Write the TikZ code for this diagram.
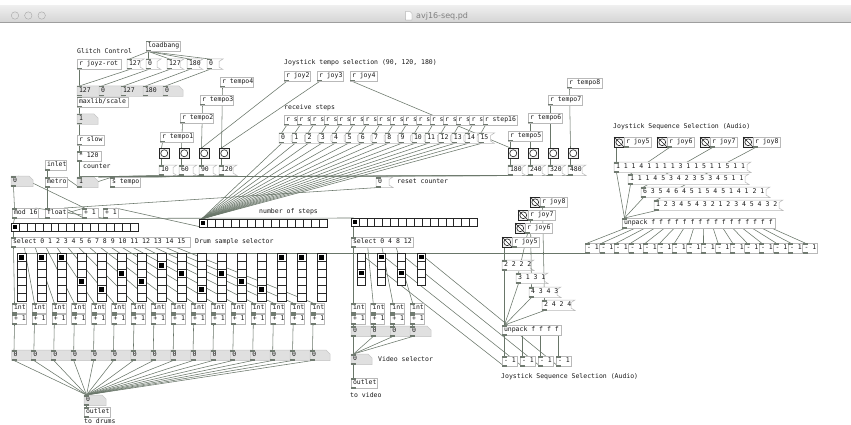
\documentclass[tikz,border=0pt]{standalone}
\usepackage{fontspec}
\newfontfamily\pdmono{DejaVu Sans Mono}
\newfontfamily\ttlfont{DejaVu Sans}
\usetikzlibrary{calc,backgrounds}
\definecolor{wirec}{RGB}{105,118,105}
\definecolor{boxc}{RGB}{185,185,185}
\definecolor{numc}{RGB}{224,224,224}
\definecolor{numb}{RGB}{198,198,198}
\definecolor{ioc}{RGB}{112,122,112}
\definecolor{txtc}{RGB}{25,25,25}
\definecolor{tbtop}{RGB}{238,238,238}
\definecolor{tbbot}{RGB}{212,212,212}
\newcommand\pdfnt{\fontsize{6.5}{7}\selectfont\pdmono}
\tikzset{
 obox/.style={draw=boxc, line width=0.5pt, fill=white, minimum height=10.5, inner sep=0, outer sep=0, anchor=north west},
 mbox/.style={fill=white, draw=none, minimum height=10.5, inner sep=0, outer sep=0, anchor=north west},
 nbox/.style={fill=numc, draw=none, minimum height=10.5, inner sep=0, outer sep=0, anchor=north west},
 txt/.style={anchor=west, inner sep=0, font=\pdfnt, text=txtc, text height=4.6pt, text depth=1.2pt},
 cmt/.style={anchor=west, inner sep=0, font=\pdfnt, text=txtc, text height=4.6pt, text depth=1.2pt},
 wire/.style={draw=wirec, line width=0.55pt},
 io/.style={fill=ioc},
 bangbox/.style={draw=black!85, line width=0.9pt, fill=black!6, minimum size=10.5, inner sep=0, outer sep=0, anchor=north west},
 radbox/.style={draw=black!85, line width=0.5pt, fill=white, inner sep=0, outer sep=0, anchor=north west},
}
% object with inlet and outlet
\newcommand\pdO[5]{\node[obox,minimum width=#4] (#1) at (#2,#3) {};
 \node[txt] at ([xshift=1.8pt]#1.west) {#5};
 \fill[io] (#1.north west) rectangle ++(5,1.5);
 \fill[io] (#1.south west) rectangle ++(5,-1.5);}
% receive-like object (outlet only)
\newcommand\pdR[5]{\node[obox,minimum width=#4] (#1) at (#2,#3) {};
 \node[txt] at ([xshift=1.8pt]#1.west) {#5};
 \fill[io] (#1.south west) rectangle ++(5,-1.5);}
% message box
\newcommand\pdM[5]{\node[mbox,minimum width=#4] (#1) at (#2,#3) {};
 \draw[boxc,line width=0.5pt] (#1.north west) -- ([xshift=4pt]#1.north east) -- ([yshift=-2.5pt]#1.north east) -- ([yshift=2.5pt]#1.south east) -- ([xshift=4pt]#1.south east) -- (#1.south west) -- cycle;
 \node[txt] at ([xshift=1.8pt]#1.west) {#5};
 \fill[io] (#1.north west) rectangle ++(5,1.5);
 \fill[io] (#1.south west) rectangle ++(5,-1.5);}
% number box
\newcommand\pdN[5]{\node[nbox,minimum width=#4] (#1) at (#2,#3) {};
 \fill[white] ([xshift=-4pt]#1.north east) -- ([xshift=0.3pt,yshift=0.3pt]#1.north east) -- ([yshift=-4pt]#1.north east) -- cycle;
 \draw[numb,line width=0.5pt] (#1.north west) -- ([xshift=-4pt]#1.north east) -- ([yshift=-4pt]#1.north east) -- (#1.south east) -- (#1.south west) -- cycle;
 \node[txt] at ([xshift=1.8pt]#1.west) {#5};
 \fill[io] (#1.north west) rectangle ++(5,1.5);
 \fill[io] (#1.south west) rectangle ++(5,-1.5);}
% bang
\newcommand\pdB[3]{\node[bangbox] (#1) at (#2,#3) {};
 \draw[black!85,line width=0.6pt,fill=white] (#1.center) circle[radius=3.5pt];}
% toggle-like
\newcommand\pdT[3]{\node[bangbox] (#1) at (#2,#3) {};
 \draw[black!85,line width=0.6pt,fill=white] (#1.center) circle[radius=3.4pt];
 \draw[black!85,line width=0.6pt] (#1.north west) -- (#1.south east);}
% hradio 16 cells
\newcommand\pdH[4]{\node[radbox,minimum width=16*#4,minimum height=#4] (#1) at (#2,#3) {};
 \foreach \i in {1,...,15} \draw[black!85,line width=0.5pt] ($(#1.north west)+(\i*#4,0)$) -- ++(0,#4);
 \fill[black] ($(#1.north west)+(1.6,1.6)$) rectangle ++(#4-3.2,#4-3.2);}
% vradio
\newcommand\pdV[5]{\node[radbox,minimum width=8.6,minimum height=8*#4] (#1) at (#2,#3) {};
 \foreach \i in {1,...,#4} \draw[black!85,line width=0.5pt] ($(#1.north west)+(0,\i*8)$) -- ++(8.6,0);
 \fill[black] ($(#1.north west)+(1.8,#5*8+1.6)$) rectangle ++(5,4.8);}
\newcommand\pdC[4]{\node[cmt] (#1) at (#2,#3) {#4};}
\newcommand\pdW[2]{\draw[wire] ([xshift=2.5pt]#1.south west) -- ([xshift=2.5pt]#2.north west);}
\newcommand\pdWR[2]{\draw[wire] ([xshift=2.5pt]#1.south west) -- ([xshift=-2.5pt]#2.north east);}

\begin{document}
\begin{tikzpicture}[x=1pt,y=-1pt]
\useasboundingbox (0,0) rectangle (851,425);
\begin{pgfonlayer}{background}
\fill[white] (0,0) rectangle (851,425);
\end{pgfonlayer}
% ---------- title bar
\shade[top color=tbtop,bottom color=tbbot] (0,6) rectangle (851,22.5);
\draw[black!38,line width=0.5pt] (0,22.5) -- (851,22.5);
\foreach \cx in {15,28.3,41.7} \draw[fill=black!12,draw=black!35,line width=0.4pt] (\cx,15.5) circle[radius=3.7pt];
\draw[fill=white,draw=black!45,line width=0.3pt] (405.5,11.5) -- (410,11.5) -- (412,13.5) -- (412,20) -- (405.5,20) -- cycle;
\node[anchor=west,inner sep=0,font=\ttlfont\fontsize{8}{9}\selectfont,text=black!50] (ttl) at (416,16) {avj16-seq.pd};

% ---------- glitch control
\pdC{cglitch}{77}{52}{Glitch Control}
\pdO{lb}{146}{41}{34}{loadbang}
\pdR{jz}{77}{59}{44}{r joyz-rot}
\pdM{ma}{127}{59}{13}{127}
\pdM{mb}{146}{59}{11}{0}
\pdM{mc}{167}{59}{13}{127}
\pdM{md}{187}{59}{12}{180}
\pdM{me}{207}{59}{12}{0}
\pdN{na}{77}{86}{26}{127}
\pdN{nb}{99}{86}{26}{0}
\pdN{nc}{121}{86}{26}{127}
\pdN{nd}{143}{86}{24}{180}
\pdN{ne}{163}{86}{20}{0}
\pdO{sc}{77}{97}{51}{maxlib/scale}
\pdN{nf}{77}{114}{21}{1}
\pdR{slow}{77}{135}{27}{r slow}
\pdO{mul}{77}{151}{24}{* 120}
\pdC{ccount}{83}{167}{counter}
\pdR{inl}{45}{160}{21}{inlet}
\pdO{met}{45}{177}{22}{metro}
\pdN{cnt}{77}{177}{21}{1}
\pdO{stp}{110}{177}{30}{s tempo}
\pdN{zo}{11}{176}{22}{0}
\pdO{mod}{12}{208}{26}{mod 16}
\pdO{flt}{45}{208}{22}{float}
\pdO{pa}{82}{208}{16}{+ 1}
\pdO{pb}{103}{208}{15}{+ 1}
\pdH{hra}{11}{223}{7.95}
\pdH{hrb}{199}{219}{8}
\pdC{csteps}{259}{212}{number of steps}
\pdH{hrc}{351}{218}{7.9}
\pdO{sel}{11}{237}{179}{select 0 1 2 3 4 5 6 7 8 9 10 11 12 13 14 15}
\pdC{cdrum}{195}{242}{Drum sample selector}

% ---------- tempo
\pdR{ta}{160}{132}{33}{r tempo1}
\pdR{tb}{180}{113}{33}{r tempo2}
\pdR{tc}{200}{95}{33}{r tempo3}
\pdR{td}{220}{77}{33}{r tempo4}
\pdB{ba}{159}{148}\pdB{bb}{179}{148}\pdB{bc}{199}{148}\pdB{bd}{219}{148}
\pdM{va}{159}{165}{14}{10}
\pdM{vb}{179}{165}{14}{60}
\pdM{vc}{199}{165}{14}{90}
\pdM{vd}{219}{165}{14}{120}
\pdC{cjoy}{284}{63}{Joystick tempo selection (90, 120, 180)}
\pdR{jb}{284}{71}{26}{r joy2}
\pdR{jc}{317}{71}{26}{r joy3}
\pdR{jd}{350}{71}{27}{r joy4}
\pdC{crecv}{284}{108}{receive steps}
\foreach \k in {0,...,14} {
  \pdR{rs\k}{284+13.25*\k}{115}{13.25}{r s}
}
\pdR{rs15}{482.75}{115}{34}{r step16}
\foreach \k in {0,...,15} {
  \pdM{ns\k}{279+13.3*\k}{133}{12}{\k}
}
\pdR{te}{508}{131}{34}{r tempo5}
\pdR{tf}{528}{113}{34}{r tempo6}
\pdR{tg}{548}{95}{34}{r tempo7}
\pdR{th}{567}{78}{35}{r tempo8}
\pdB{be}{508}{148}\pdB{bf}{528}{148}\pdB{bg}{548}{148}\pdB{bh}{568}{148}
\pdM{ve}{508}{165}{14}{180}
\pdM{vf}{528}{165}{14}{240}
\pdM{vg}{548}{165}{14}{320}
\pdM{vh}{568}{165}{14}{480}
\pdM{rst}{376}{177}{13}{0}
\pdC{creset}{397}{182}{reset counter}

% ---------- drum steps
\foreach \k/\s in {0/0,1/0,2/0,3/3,4/4,5/2,6/3,7/1,8/2,9/4,10/2,11/3,12/4,13/0,14/0,15/0} {
  \pdV{vr\k}{17.3+20*\k}{253.3}{6}{\s}
  \pdO{int\k}{12+19.9*\k}{303}{14}{int}
  \pdO{pl\k}{12+19.9*\k}{314}{14}{+ 1}
}
\foreach \k in {0,...,15} {
  \pgfmathsetmacro\ww{\k==15 ? 20 : 24}
  \pdN{dn\k}{11.5+19.9*\k}{350}{\ww}{0}
}
\pdN{dout}{84}{395}{22}{0}
\pdO{outl}{84}{407}{26}{outlet}
\pdC{cdrums}{84}{421.5}{to drums}

% ---------- video
\pdO{vsel}{351}{237}{62}{select 0 4 8 12}
\foreach \k/\s in {0/2,1/0,2/2,3/0} {
  \pdV{vv\k}{357+20*\k}{253}{4}{\s}
  \pdO{vi\k}{351+19.7*\k}{303}{14}{int}
  \pdO{vp\k}{351+19.7*\k}{314}{14}{+ 1}
}
\foreach \k in {0,...,3} {
  \pgfmathsetmacro\ww{\k==3 ? 21 : 23.7}
  \pdN{vn\k}{351+19.7*\k}{326}{\ww}{0}
}
\pdN{vout}{351}{354}{21}{0}
\pdC{cvid}{378}{360}{Video selector}
\pdO{vol}{351}{378}{26}{outlet}
\pdC{ctv}{350}{396}{to video}

\pdT{tqh}{530}{197}\pdR{rqh}{540}{197}{27}{r joy8}
\pdT{tqg}{518}{210}\pdR{rqg}{528}{210}{27}{r joy7}
\pdT{tqf}{515}{223}\pdR{rqf}{525}{223}{27}{r joy6}
\pdT{tqe}{502}{237}\pdR{rqe}{512}{237}{27}{r joy5}
\pdM{qa}{502}{260}{28}{2 2 2 2}
\pdM{qb}{516}{273}{28}{3 1 3 1}
\pdM{qc}{529}{287}{28}{4 3 4 3}
\pdM{qd}{542}{300}{29}{2 4 2 4}
\pdO{vun}{502}{325}{59}{unpack f f f f}
\foreach \k/\x in {0/502,1/520,2/538,3/556} {
  \pdO{vm\k}{\x}{356}{15}{- 1}
}
\pdC{cjsv}{501}{377}{Joystick Sequence Selection (Audio)}

% ---------- audio sequence selection
\pdC{cjsa}{613}{127}{Joystick Sequence Selection (Audio)}
\pdT{tae}{614}{137}\pdR{rae}{624}{137}{27}{r joy5}
\pdT{taf}{657}{137}\pdR{raf}{667}{137}{27}{r joy6}
\pdT{tag}{700}{137}\pdR{rag}{710}{137}{27}{r joy7}
\pdT{tah}{743}{137}\pdR{rah}{753}{137}{27}{r joy8}
\pdM{aa}{614}{162}{133}{1 1 1 4 1 1 1 1 3 1 1 5 1 1 5 1 1}
\pdM{ab}{628}{174}{117}{1 1 1 4 5 3 4 2 3 5 3 4 5 1 1}
\pdM{ac}{641}{187}{125}{6 3 5 4 6 4 5 1 5 4 5 1 4 1 2 1}
\pdM{ad}{654}{200}{125}{1 2 3 4 5 4 3 2 1 2 3 4 5 4 3 2}
\pdO{aun}{622}{218}{153}{unpack f f f f f f f f f f f f f f f f}
\foreach \k in {0,...,15} {
  \pdO{am\k}{585+14.5*\k}{243}{14.5}{- 1}
}

% ---------- wires
\begin{pgfonlayer}{background}
\pdW{lb}{ma}\pdW{lb}{mb}\pdW{lb}{mc}\pdW{lb}{md}\pdW{lb}{me}
\pdW{ma}{na}\pdW{mb}{nb}\pdW{mc}{nc}\pdW{md}{nd}\pdW{me}{ne}
\pdW{jz}{na}
\pdW{sc}{nf}\pdW{nf}{mul}\pdW{slow}{mul}\pdW{mul}{cnt}
\pdW{cnt}{stp}\pdWR{cnt}{met}
\pdW{inl}{met}\pdW{met}{flt}
\pdW{flt}{pa}\pdWR{pa}{flt}
\draw[wire] ([xshift=7pt]zo.north west) -- ([xshift=2.5pt]pa.north west);
\pdW{zo}{mod}\pdW{mod}{hra}\pdW{hra}{sel}
\draw[wire] ([xshift=2pt]hrb.south west) -- ([xshift=-2.5pt]pb.north east);
\pdWR{pb}{mod}
\draw[wire] ([xshift=2.5pt]rst.south west) -- ([xshift=-2.5pt]flt.north east);
\pdW{mod}{hrc}
\pdW{hrc}{vsel}
\pdW{ta}{ba}\pdW{tb}{bb}\pdW{tc}{bc}\pdW{td}{bd}
\pdW{te}{be}\pdW{tf}{bf}\pdW{tg}{bg}\pdW{th}{bh}
\pdW{ba}{va}\pdW{bb}{vb}\pdW{bc}{vc}\pdW{bd}{vd}
\pdW{be}{ve}\pdW{bf}{vf}\pdW{bg}{vg}\pdW{bh}{vh}
\foreach \v in {va,vb,vc,vd,ve,vf,vg,vh} { \pdW{\v}{cnt} }
\pdW{jb}{bc}\pdW{jc}{bd}\pdW{jd}{be}
\foreach \k in {0,...,15} {
  \pdW{rs\k}{ns\k}
  \pdW{ns\k}{hrb}
}
\foreach \k in {0,...,15} {
  \draw[wire] ($([xshift=2.5pt]sel.south west)!\k/16!([xshift=-2.5pt]sel.south east)$) -- ([xshift=2.5pt]int\k.north west);
  \pdW{int\k}{pl\k}
  \pdW{pl\k}{dn\k}
  \pdW{dn\k}{dout}
  \pdW{am\k}{vr\k}
  \draw[wire] ($([xshift=2.5pt]aun.south west)!\k/15!([xshift=-2.5pt]aun.south east)$) -- ([xshift=2.5pt]am\k.north west);
}
\pdW{dout}{outl}
\foreach \k in {0,...,3} {
  \draw[wire] ($([xshift=2.5pt]vsel.south west)!\k/4!([xshift=-2.5pt]vsel.south east)$) -- ([xshift=2.5pt]vi\k.north west);
  \pdW{vi\k}{vp\k}
  \pdW{vp\k}{vn\k}
  \pdW{vn\k}{vout}
  \pdW{vm\k}{vv\k}
  \draw[wire] ($([xshift=2.5pt]vun.south west)!\k/3!([xshift=-2.5pt]vun.south east)$) -- ([xshift=2.5pt]vm\k.north west);
}
\pdW{vout}{vol}
\pdW{tqe}{qa}\pdW{rqf}{qb}\pdW{rqg}{qc}\pdW{rqh}{qd}
\pdW{qa}{vun}\pdW{qb}{vun}\pdW{qc}{vun}\pdW{qd}{vun}
\pdW{tae}{aa}\pdW{raf}{ab}\pdW{rag}{ac}\pdW{rah}{ad}
\pdW{aa}{aun}\pdW{ab}{aun}\pdW{ac}{aun}\pdW{ad}{aun}
\end{pgfonlayer}
\end{tikzpicture}
\end{document}
